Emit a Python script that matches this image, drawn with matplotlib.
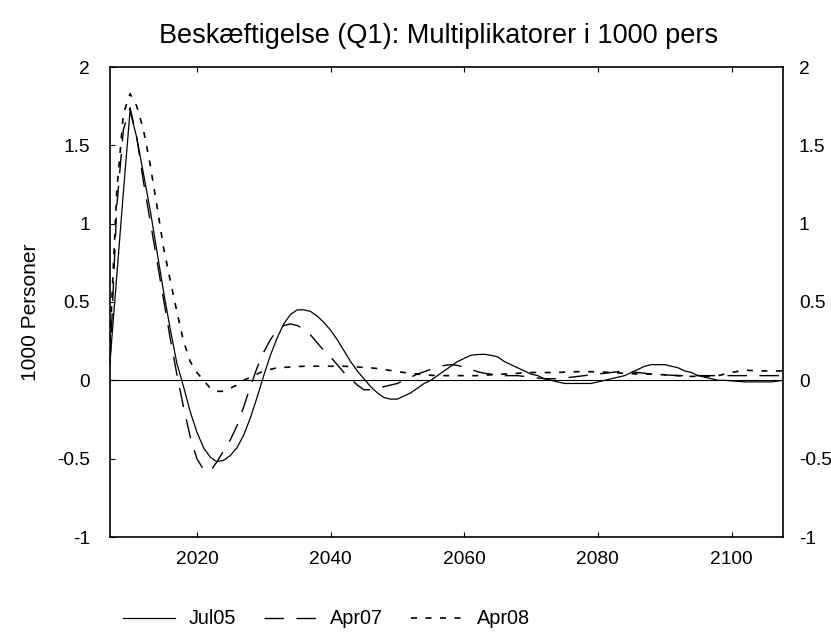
import matplotlib

matplotlib.use("Agg")
import matplotlib.pyplot as plt

plt.rcParams["font.family"] = ["Liberation Sans", "DejaVu Sans"]

TITLE = "Beskæftigelse (Q1): Multiplikatorer i 1000 pers"
Y_LABEL = "1000 Personer"
SERIES_NAMES = ["Jul05", "Apr07", "Apr08"]

# Jul05 (solid)
jul05_years = list(range(2007, 2100)) + [2102, 2104, 2106, 2107.7]
jul05_values = [
    0.12, 0.66, 1.20, 1.72, 1.55, 1.32, 1.09, 0.83, 0.57, 0.33,  # 2007-2016
    0.11, -0.04, -0.20, -0.33, -0.43, -0.49, -0.52, -0.51, -0.48, -0.43,  # 2017-2026
    -0.35, -0.24, -0.11, 0.03, 0.16, 0.27, 0.36, 0.42, 0.45, 0.45,  # 2027-2036
    0.44, 0.41, 0.37, 0.32, 0.26, 0.19, 0.12, 0.06, 0.01, -0.04,  # 2037-2046
    -0.08, -0.11, -0.12, -0.12, -0.10, -0.08, -0.05, -0.02, 0.00, 0.03,  # 2047-2056
    0.06, 0.09, 0.12, 0.14, 0.16, 0.165, 0.166, 0.16, 0.15, 0.12,  # 2057-2066
    0.10, 0.08, 0.06, 0.04, 0.03, 0.01, 0.00, -0.01, -0.02, -0.02,  # 2067-2076
    -0.02, -0.02, -0.02, -0.01, 0.00, 0.01, 0.02, 0.03, 0.05, 0.07,  # 2077-2086
    0.09, 0.10, 0.10, 0.10, 0.09, 0.08, 0.06, 0.05, 0.03, 0.02,  # 2087-2096
    0.01, 0.00, 0.00, -0.01, -0.01, -0.01, 0.00,  # 2097-2107
]

# Apr07 (dashed)
apr07_years = list(range(2007, 2064)) + list(range(2064, 2107, 2)) + [2107.7]
apr07_values = [
    0.10, 1.10, 1.60, 1.74, 1.55, 1.27, 1.02, 0.77, 0.52, 0.27,  # 2007-2016
    0.04, -0.17, -0.36, -0.50, -0.57, -0.58, -0.52, -0.45, -0.38, -0.29,  # 2017-2026
    -0.17, -0.04, 0.08, 0.18, 0.26, 0.32, 0.35, 0.36, 0.35, 0.33,  # 2027-2036
    0.29, 0.24, 0.19, 0.15, 0.10, 0.05, 0.01, -0.03, -0.06, -0.06,  # 2037-2046
    -0.05, -0.04, -0.03, -0.02, 0.00, 0.02, 0.04, 0.055, 0.07, 0.085,  # 2047-2056
    0.095, 0.10, 0.095, 0.085, 0.07, 0.055, 0.045,  # 2057-2063
    0.04, 0.03, 0.03, 0.02, 0.01, 0.01, 0.02, 0.03, 0.04, 0.05, 0.06,  # 2064-2084
    0.05, 0.04, 0.035, 0.03, 0.03, 0.03, 0.03, 0.03, 0.03, 0.03, 0.03,  # 2086-2106
    0.03,
]

# Apr08 (dotted)
apr08_years = list(range(2007, 2032)) + list(range(2032, 2107, 2)) + [2107.7]
apr08_values = [
    0.25, 1.20, 1.70, 1.83, 1.75, 1.60, 1.38, 1.12, 0.85, 0.64,  # 2007-2016
    0.44, 0.25, 0.12, 0.05, 0.00, -0.05, -0.07, -0.07, -0.05, -0.03,  # 2017-2026
    0.00, 0.02, 0.04, 0.06, 0.07,  # 2027-2031
    0.08, 0.085, 0.09, 0.09, 0.09, 0.09, 0.085, 0.08, 0.07, 0.055,  # 2032-2050
    0.045, 0.035, 0.03, 0.03, 0.03, 0.03, 0.035, 0.04, 0.045, 0.05,  # 2052-2070
    0.05, 0.05, 0.055, 0.055, 0.055, 0.05, 0.045, 0.04, 0.04, 0.035,  # 2072-2090
    0.03, 0.025, 0.025, 0.03, 0.05, 0.065, 0.06, 0.06,  # 2092-2106
    0.06,
]

X_TICKS = [2020, 2040, 2060, 2080, 2100]
Y_TICKS = [-1, -0.5, 0, 0.5, 1, 1.5, 2]
Y_TICK_LABELS = ["-1", "-0.5", "0", "0.5", "1", "1.5", "2"]

fig = plt.figure(figsize=(8.31, 6.32), dpi=100)
ax = fig.add_axes([110 / 831, 1 - 537 / 632, 673 / 831, 470 / 632])

ax.plot(jul05_years, jul05_values, color="black", lw=0.9, label=SERIES_NAMES[0])
ax.plot(apr07_years, apr07_values, color="black", lw=1.0, dashes=(14, 9), label=SERIES_NAMES[1])
ax.plot(apr08_years, apr08_values, color="black", lw=1.2, dashes=(3.6, 5.1), label=SERIES_NAMES[2])
ax.axhline(0, color="black", lw=0.8, zorder=1)

ax.set_xlim(2007, 2107.7)
ax.set_ylim(-1, 2)
ax.set_xticks(X_TICKS)
ax.set_yticks(Y_TICKS)
ax.set_yticklabels(Y_TICK_LABELS)
ax.tick_params(which="both", direction="in", top=True, right=True,
               length=3.8, width=0.8, labelsize=13.8)
ax.tick_params(axis="x", pad=10)
ax.tick_params(axis="y", pad=14.5)
for spine in ax.spines.values():
    spine.set_linewidth(1.2)

# right-hand labels sit closer to the frame than the left ones
ax_r = ax.twinx()
ax_r.set_ylim(ax.get_ylim())
ax_r.set_yticks(Y_TICKS)
ax_r.set_yticklabels(Y_TICK_LABELS)
ax_r.tick_params(direction="in", length=0, labelsize=13.8, pad=11.5)
for spine in ax_r.spines.values():
    spine.set_visible(False)

fig.text(439 / 831, 1 - 36 / 632, TITLE, ha="center", va="center", fontsize=19.5)
fig.text(30 / 831, 1 - 312 / 632, Y_LABEL, ha="center", va="center", rotation=90, fontsize=15)

fig.legend(loc="center left", bbox_to_anchor=(123 / 831, 1 - 619 / 632), ncol=3,
           frameon=False, fontsize=14.3, handlelength=2.62, handletextpad=0.7,
           columnspacing=1.41, borderpad=0, borderaxespad=0)

fig.savefig("out.png", dpi=100)
